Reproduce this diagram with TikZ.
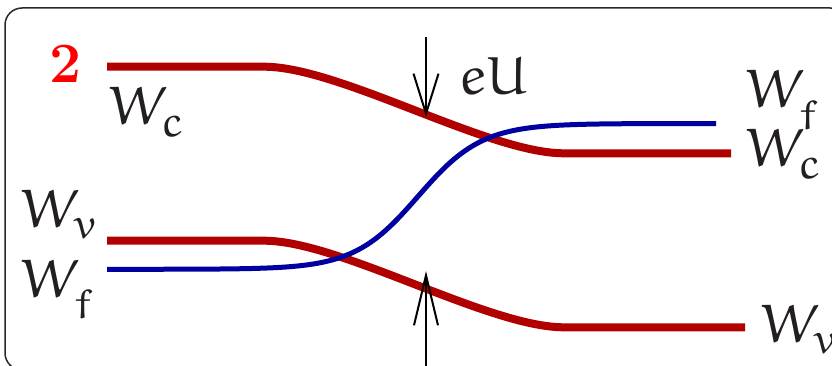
\documentclass[tikz,border=0pt]{standalone}
\usetikzlibrary{arrows.meta}
\IfFileExists{ueur.fd}{\DeclareMathAlphabet{\eulrm}{U}{eur}{m}{n}}{\DeclareMathAlphabet{\eulrm}{OML}{cmm}{m}{it}}
\DeclareMathSizes{54}{54}{43}{30}
\definecolor{bandred}{RGB}{176,0,0}
\definecolor{bandblue}{RGB}{0,0,160}
\definecolor{txt}{RGB}{35,31,32}
\definecolor{framegray}{RGB}{40,40,40}
\tikzset{
  redband/.style={draw=bandred, line width=8pt, line cap=butt},
  blueband/.style={draw=bandblue, line width=5pt, line cap=butt},
  lbl/.style={inner sep=0pt, anchor=base west, text=txt, font=\fontsize{54}{60}\selectfont},
  shaft/.style={draw=black, line width=2pt},
  framebox/.style={draw=framegray, line width=1.5pt, rounded corners=17pt}
}
\begin{document}
\begin{tikzpicture}[x=1pt, y=-1pt]
\useasboundingbox (0,0) rectangle (832,366);
\clip (0,0) rectangle (832,366);
\draw[framebox] (5,8) rectangle (847,370);
% bands
\draw[redband] (107,66.7) -- (264,66.7) .. controls (340,66.7) and (488,153.3) .. (564,153.3) -- (731,153.3);
\draw[redband] (107,240.7) -- (264,240.7) .. controls (340,240.7) and (488,327.3) .. (564,327.3) -- (745,327.3);
\draw[blueband] plot[domain=107:716, samples=160, smooth] (\x, {196.4-72.9*tanh((\x-418)/64)});
% arrows
\coordinate (a1s) at (426,37);
\coordinate (a1e) at (426,117);
\coordinate (a2s) at (426,372);
\coordinate (a2e) at (426,271);
\draw[shaft, -{Straight Barb[length=40pt, width=25pt]}] (a1s) -- (a1e);
\draw[shaft, -{Straight Barb[length=50pt, width=24pt]}] (a2s) -- (a2e);
% labels
\node[inner sep=0pt, text={rgb,255:red,255;green,0;blue,0}, font=\fontsize{57}{60}\selectfont\bfseries] (num) at (66,64) {2};
\node[lbl] (wcl) at (109,125) {$\eulrm{W}_{\eulrm{c}}$};
\node[lbl] (wvl) at (21,227) {$\eulrm{W}_{\eulrm{v}}$};
\node[lbl] (wfl) at (21,297) {$\eulrm{W}_{\eulrm{f}}$};
\node[lbl] (wfr) at (746,108) {$\eulrm{W}_{\eulrm{f}}$};
\node[lbl] (wcr) at (746,167) {$\eulrm{W}_{\eulrm{c}}$};
\node[lbl] (wvr) at (761,342) {$\eulrm{W}_{\eulrm{v}}$};
\node[lbl] (eu) at (459,95) {$\eulrm{eU}$};
\end{tikzpicture}
\end{document}
